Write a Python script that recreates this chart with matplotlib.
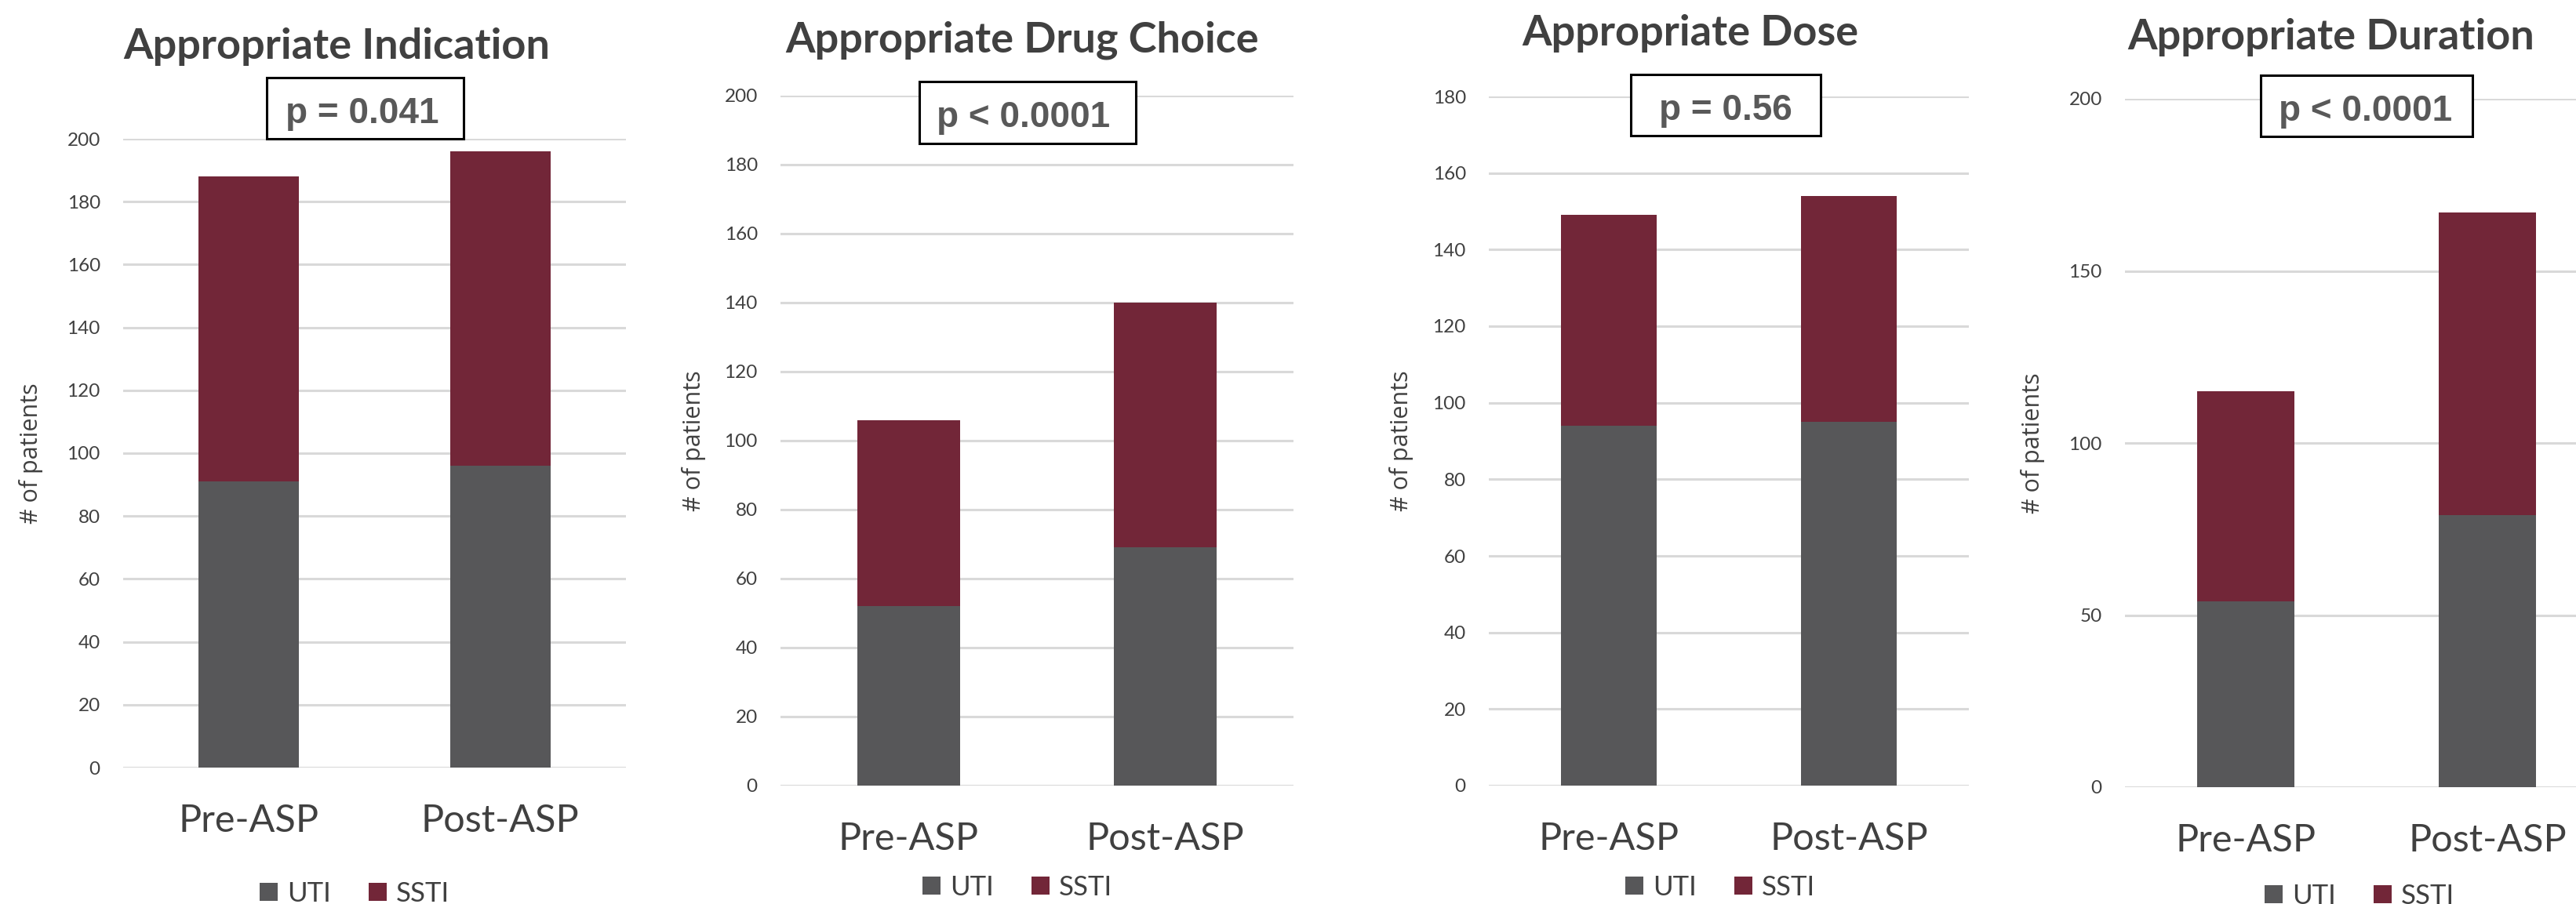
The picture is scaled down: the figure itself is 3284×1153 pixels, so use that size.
import matplotlib
matplotlib.use("Agg")
import matplotlib.pyplot as plt
from matplotlib.patches import Rectangle

# ---- data -------------------------------------------------------------
categories = ["Pre-ASP", "Post-ASP"]
series_names = ["UTI", "SSTI"]

titles = ["Appropriate Indication", "Appropriate Drug Choice",
          "Appropriate Dose", "Appropriate Duration"]
p_values = ["p = 0.041", "p < 0.0001", "p = 0.56", "p < 0.0001"]

uti_indication = [91, 96]
ssti_indication = [97, 100]

uti_drug_choice = [52, 69]
ssti_drug_choice = [54, 71]

uti_dose = [94, 95]
ssti_dose = [55, 59]

uti_duration = [54, 79]
ssti_duration = [61, 88]

y_max = [200, 200, 180, 200]
y_step = [20, 20, 20, 50]

# ---- style ------------------------------------------------------------
UTI_COLOR = "#575759"
SSTI_COLOR = "#722638"
GRID_COLOR = "#D9D9D9"
TEXT_COLOR = "#404040"
P_COLOR = "#595959"

BODY_FONT = ["Lato", "DejaVu Sans"]
P_FONT = ["Liberation Sans", "DejaVu Sans"]
YLABEL_FONT = ["Open Sans", "DejaVu Sans"]

W, H = 3284, 1153
fig = plt.figure(figsize=(W / 100, H / 100), dpi=100)
fig.patch.set_facecolor("white")


def fx(px):
    return px / W


def fy(py):
    return 1 - py / H


# plot-area placement of each panel in pixels: left, right, y of zero, y of top
panels = [
    (157, 798, 979, 177),
    (995, 1649, 1002, 122),
    (1898, 2510, 1002, 123),
    (2709, 3325, 1004, 126),
]
title_pos = [(429, 75), (1303, 66), (2155, 58), (2972, 63)]
pbox = [(340, 591, 99, 177), (1172, 1448, 104, 183),
        (2079, 2321, 95, 173), (2882, 3152, 96, 174)]
ptext_pos = [(462, 157), (1305, 162), (2200, 153), (3016, 154)]
legend_pos = [(452, 1140), (1297, 1132), (2193, 1132), (3008, 1143)]
ylabel_x = [-0.159, -0.145, -0.157, -0.166]

uti_all = [uti_indication, uti_drug_choice, uti_dose, uti_duration]
ssti_all = [ssti_indication, ssti_drug_choice, ssti_dose, ssti_duration]

for i, (l, r, y0, yt) in enumerate(panels):
    ax = fig.add_axes([fx(l), fy(y0), (r - l) / W, (y0 - yt) / H])
    ax.set_facecolor("none")
    x = list(range(len(categories)))
    b1 = ax.bar(x, uti_all[i], width=0.4, color=UTI_COLOR, label=series_names[0], zorder=3)
    b2 = ax.bar(x, ssti_all[i], width=0.4, bottom=uti_all[i], color=SSTI_COLOR,
                label=series_names[1], zorder=3)
    ax.set_xlim(-0.5, 1.5)
    ax.set_ylim(0, y_max[i])
    ax.set_yticks(range(0, y_max[i] + 1, y_step[i]))
    ax.yaxis.grid(True, color=GRID_COLOR, linewidth=2.2, zorder=0)
    ax.set_axisbelow(True)
    for s in ax.spines.values():
        s.set_visible(False)
    ax.tick_params(axis="both", length=0)
    ax.tick_params(axis="y", pad=21, labelsize=17.5, labelcolor=TEXT_COLOR)
    for lbl in ax.get_yticklabels():
        lbl.set_fontfamily(BODY_FONT)
    ax.set_xticks(x)
    ax.set_xticklabels(categories, fontsize=35, color=TEXT_COLOR, family=BODY_FONT)
    ax.tick_params(axis="x", pad=59)
    for lbl in ax.get_xticklabels():
        lbl.set_verticalalignment("baseline")

    ax.set_ylabel("# of patients", fontsize=22, color=TEXT_COLOR, family=YLABEL_FONT)
    ax.yaxis.set_label_coords(ylabel_x[i], 0.5)

    # title
    tx, ty = title_pos[i]
    fig.text(fx(tx), fy(ty), titles[i], ha="center", va="baseline", fontsize=39,
             fontweight="bold", color=TEXT_COLOR, family=BODY_FONT)

    # p-value box
    bl, br, bt, bb = pbox[i]
    fig.patches.append(Rectangle((fx(bl), fy(bb)), (br - bl) / W, (bb - bt) / H,
                                 transform=fig.transFigure, facecolor="white",
                                 edgecolor="black", linewidth=2.2, zorder=5))
    px_, py_ = ptext_pos[i]
    fig.text(fx(px_), fy(py_), p_values[i], ha="center", va="baseline", fontsize=33,
             fontweight="bold", color=P_COLOR, family=P_FONT, zorder=6)

    # legend
    lx, ly = legend_pos[i]
    fig.legend(handles=[b1, b2], labels=series_names, loc="center",
               bbox_to_anchor=(fx(lx), fy(ly)), ncol=2, frameon=False,
               prop={"family": BODY_FONT, "size": 25}, labelcolor=TEXT_COLOR,
               handlelength=0.65, handleheight=0.65, handletextpad=0.35,
               columnspacing=1.4, borderpad=0)

fig.savefig("out.png", dpi=100, facecolor="white")
